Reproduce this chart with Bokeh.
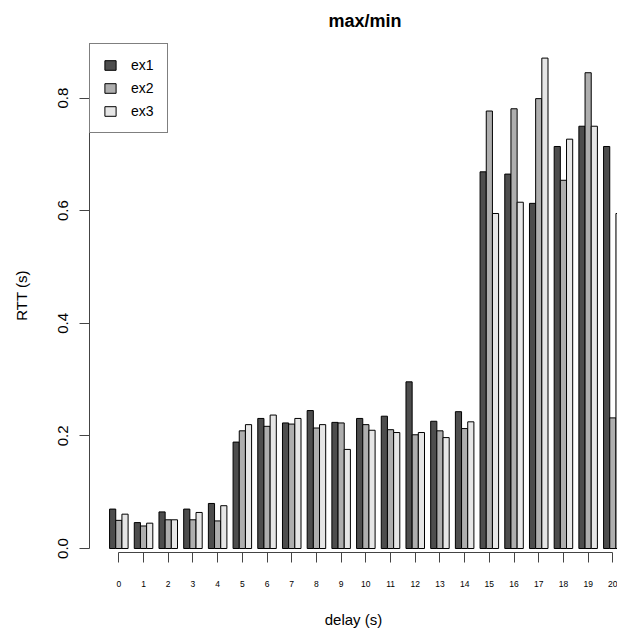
from bokeh.plotting import figure
from bokeh.models import Range1d, FixedTicker, ColumnDataSource, Legend, LegendItem
from bokeh.embed import file_html
from bokeh.resources import INLINE

# ---- data ----
delays = list(range(21))
series_names = ["ex1", "ex2", "ex3"]
ex1 = [0.070, 0.046, 0.065, 0.070, 0.080, 0.189, 0.231, 0.223, 0.245, 0.224, 0.231,
       0.235, 0.296, 0.226, 0.243, 0.669, 0.665, 0.613, 0.714, 0.750, 0.714]
ex2 = [0.050, 0.040, 0.051, 0.051, 0.049, 0.209, 0.217, 0.221, 0.214, 0.223, 0.220,
       0.211, 0.202, 0.209, 0.213, 0.777, 0.781, 0.799, 0.654, 0.845, 0.232]
ex3 = [0.061, 0.045, 0.051, 0.064, 0.076, 0.220, 0.237, 0.231, 0.220, 0.176, 0.210,
       0.206, 0.206, 0.197, 0.225, 0.595, 0.615, 0.871, 0.727, 0.750, 0.595]
y_ticks = [0.0, 0.2, 0.4, 0.6, 0.8]
y_tick_labels = ["0.0", "0.2", "0.4", "0.6", "0.8"]

# ---- style ----
colors = ["#4D4D4D", "#AEAEAE", "#E6E6E6"]
FONT = "Liberation Sans"
AXIS_COL = "#444444"
GROUP = 4  # three bars + one bar-width gap (R barplot beside=TRUE)

p = figure(width=617, height=634, output_backend="svg", toolbar_location=None,
           x_range=Range1d(-2.251, 83.255), y_range=Range1d(-0.0071, 0.9058),
           min_border_left=89, min_border_right=0, min_border_top=37, min_border_bottom=82,
           title="max/min")
p.outline_line_color = None
p.background_fill_color = "white"
p.border_fill_color = "white"
p.xgrid.visible = False
p.ygrid.visible = False

p.title.text_font = FONT
p.title.text_font_size = "18px"
p.title.text_font_style = "bold"
p.title.text_color = "black"
p.title.align = "left"
p.title.offset = 239
p.title.standoff = 16

items = []
for s, (name, vals) in enumerate(zip(series_names, [ex1, ex2, ex3])):
    xs = [1.5 + GROUP * d + s for d in delays]
    src = ColumnDataSource(dict(x=xs, top=vals))
    r = p.vbar(x="x", top="top", bottom=0, width=1, source=src,
               fill_color=colors[s], line_color="black", line_width=1)
    items.append(LegendItem(label=name, renderers=[r]))

# x axis: ticks at group centres, labelled with delay
xax = p.xaxis[0]
centers = [2.5 + GROUP * d for d in delays]
xax.ticker = FixedTicker(ticks=centers)
xax.major_label_overrides = {c: str(d) for c, d in zip(centers, delays)}
xax.bounds = (centers[0], centers[-1])
xax.minor_tick_line_color = None
xax.major_tick_out = 10
xax.major_tick_in = 0
xax.axis_line_color = AXIS_COL
xax.major_tick_line_color = AXIS_COL
xax.major_label_text_font = FONT
xax.major_label_text_font_size = "8.5px"
xax.major_label_text_color = "black"
xax.major_label_standoff = 18
xax.axis_label = "delay (s)"
xax.axis_label_text_font = FONT
xax.axis_label_text_font_size = "15px"
xax.axis_label_text_font_style = "normal"
xax.axis_label_text_color = "black"
xax.axis_label_standoff = 21

yax = p.yaxis[0]
yax.ticker = FixedTicker(ticks=y_ticks)
yax.major_label_overrides = {t: l for t, l in zip(y_ticks, y_tick_labels)}
yax.bounds = (y_ticks[0], y_ticks[-1])
yax.minor_tick_line_color = None
yax.major_tick_out = 10
yax.major_tick_in = 0
yax.axis_line_color = AXIS_COL
yax.major_tick_line_color = AXIS_COL
yax.major_label_orientation = "vertical"
yax.major_label_text_font = FONT
yax.major_label_text_font_size = "15px"
yax.major_label_text_color = "black"
yax.major_label_standoff = 11
yax.axis_label = "RTT (s)"
yax.axis_label_text_font = FONT
yax.axis_label_text_font_size = "15px"
yax.axis_label_text_font_style = "normal"
yax.axis_label_text_color = "black"
yax.axis_label_standoff = 26

legend = Legend(items=items, location=(0, 419))
legend.border_line_color = "black"
legend.border_line_width = 1
legend.background_fill_color = "white"
legend.background_fill_alpha = 1
legend.label_text_font = FONT
legend.label_text_font_size = "14px"
legend.label_text_color = "black"
legend.glyph_width = 14
legend.glyph_height = 12
legend.spacing = 7
legend.padding = 13
legend.margin = 0
legend.label_standoff = 14
legend.label_height = 12
p.add_layout(legend, "center")

open("out.html", "w").write(file_html(p, INLINE))
